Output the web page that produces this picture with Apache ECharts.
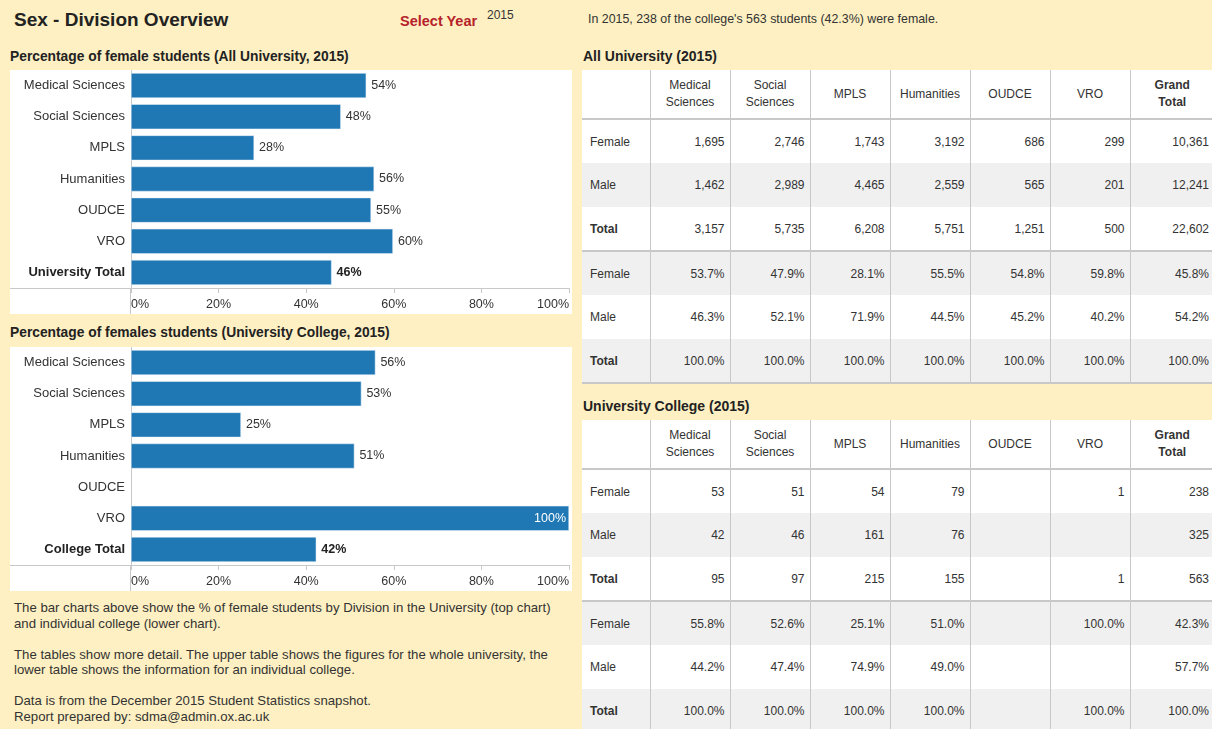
<!DOCTYPE html>
<html>
<head>
<meta charset="utf-8">
<script src="https://cdn.jsdelivr.net/npm/echarts@6/dist/echarts.min.js"></script>
<style>
  html, body { margin: 0; padding: 0; }
  body { width: 1212px; height: 729px; background: #fef0c2; position: relative; overflow: hidden;
         font-family: Arial, 'Liberation Sans', sans-serif; color: #333; }
  .abs { position: absolute; white-space: nowrap; }
  .chart { position: absolute; background: #fff; }
  table { position: absolute; border-collapse: collapse; table-layout: fixed; background: #fff; font-size: 12px; color: #333; }
  td { border-left: 1px solid #c8c8c8; padding: 0 5px; text-align: right; height: 44px; box-sizing: border-box; }
  td:first-child { border-left: none; text-align: left; padding-left: 8px; }
  tr.head td { height: 49px; text-align: center; line-height: 17px; border-bottom: 2px solid #c8c8c8; padding: 0 2px; }
  tr.gray td { background: #f0f0f0; }
  tr.sep td { border-bottom: 2px solid #c8c8c8; }
  .b { font-weight: bold; }
</style>
</head>
<body>
<div class="abs b" style="left:14px;top:9px;font-size:19px;color:#222;">Sex - Division Overview</div>
<div class="abs b" style="left:400px;top:13px;font-size:14.5px;color:#b5222a;">Select Year</div>
<div class="abs" style="left:487px;top:8px;font-size:12px;">2015</div>
<div class="abs" style="left:588px;top:12px;font-size:12.4px;" id="summary"></div>

<div class="abs b" style="left:10px;top:49px;font-size:13.8px;color:#222;">Percentage of female students (All University, 2015)</div>
<div class="chart" id="chartUni" style="left:10px;top:70px;width:562px;height:244px;"></div>
<div class="abs b" style="left:10px;top:325px;font-size:13.8px;color:#222;">Percentage of females students (University College, 2015)</div>
<div class="chart" id="chartCol" style="left:10px;top:347px;width:562px;height:244px;"></div>

<div class="abs" style="left:14px;top:600px;font-size:13.2px;line-height:15.5px;">
The bar charts above show the % of female students by Division in the University (top chart)<br>
and individual college (lower chart).<br><br>
The tables show more detail. The upper table shows the figures for the whole university, the<br>
lower table shows the information for an individual college.<br><br>
Data is from the December 2015 Student Statistics snapshot.<br>
Report prepared by: sdma@admin.ox.ac.uk
</div>

<div class="abs b" style="left:583px;top:48px;font-size:14px;color:#222;">All University (2015)</div>
<table id="tblUni" style="left:582px;top:70px;width:632px;"></table>
<div class="abs b" style="left:583px;top:398px;font-size:14px;color:#222;">University College (2015)</div>
<table id="tblCol" style="left:582px;top:420px;width:632px;"></table>

<script>
// categories
var divisions = ['Medical Sciences', 'Social Sciences', 'MPLS', 'Humanities', 'OUDCE', 'VRO'];
var headers = ['Medical<br>Sciences', 'Social<br>Sciences', 'MPLS', 'Humanities', 'OUDCE', 'VRO', '<b>Grand<br>Total</b>'];
var uniTotalLabel = 'University Total';
var colTotalLabel = 'College Total';

// All University counts (last value = grand total)
var uniFemale = [1695, 2746, 1743, 3192, 686, 299, 10361];
var uniMale = [1462, 2989, 4465, 2559, 565, 201, 12241];
var uniTotal = [3157, 5735, 6208, 5751, 1251, 500, 22602];
var uniFemalePct = [53.7, 47.9, 28.1, 55.5, 54.8, 59.8, 45.8];
var uniMalePct = [46.3, 52.1, 71.9, 44.5, 45.2, 40.2, 54.2];
var uniTotalPct = [100, 100, 100, 100, 100, 100, 100];

// University College counts
var colFemale = [53, 51, 54, 79, null, 1, 238];
var colMale = [42, 46, 161, 76, null, null, 325];
var colTotal = [95, 97, 215, 155, null, 1, 563];
var colFemalePct = [55.8, 52.6, 25.1, 51.0, null, 100, 42.3];
var colMalePct = [44.2, 47.4, 74.9, 49.0, null, null, 57.7];
var colTotalPct = [100, 100, 100, 100, null, 100, 100];

// x axis ticks
var pctMin = 0, pctMax = 100, pctStep = 20;

document.getElementById('summary').textContent =
  "In 2015, 238 of the college's 563 students (42.3%) were female.";

function fmtNum(v) { return v == null ? '' : v.toLocaleString('en-US'); }
function fmtPct(v) { return v == null ? '' : v.toFixed(1) + '%'; }

function buildTable(id, rows) {
  var html = '<colgroup><col style="width:68px">';
  for (var i = 0; i < 6; i++) html += '<col style="width:80px">';
  html += '<col style="width:84px"></colgroup>';
  html += '<tr class="head"><td></td>';
  headers.forEach(function (h) { html += '<td>' + h + '</td>'; });
  html += '</tr>';
  rows.forEach(function (r) {
    html += '<tr class="' + r.cls + '"><td' + (r.bold ? ' class="b"' : '') + '>' + r.name + '</td>';
    r.vals.forEach(function (v) { html += '<td>' + r.fmt(v) + '</td>'; });
    html += '</tr>';
  });
  document.getElementById(id).innerHTML = html;
}

buildTable('tblUni', [
  { name: 'Female', vals: uniFemale, fmt: fmtNum, cls: '' },
  { name: 'Male', vals: uniMale, fmt: fmtNum, cls: 'gray' },
  { name: 'Total', vals: uniTotal, fmt: fmtNum, cls: 'sep', bold: true },
  { name: 'Female', vals: uniFemalePct, fmt: fmtPct, cls: 'gray' },
  { name: 'Male', vals: uniMalePct, fmt: fmtPct, cls: '' },
  { name: 'Total', vals: uniTotalPct, fmt: fmtPct, cls: 'gray sep', bold: true }
]);
buildTable('tblCol', [
  { name: 'Female', vals: colFemale, fmt: fmtNum, cls: '' },
  { name: 'Male', vals: colMale, fmt: fmtNum, cls: 'gray' },
  { name: 'Total', vals: colTotal, fmt: fmtNum, cls: 'sep', bold: true },
  { name: 'Female', vals: colFemalePct, fmt: fmtPct, cls: 'gray' },
  { name: 'Male', vals: colMalePct, fmt: fmtPct, cls: '' },
  { name: 'Total', vals: colTotalPct, fmt: fmtPct, cls: 'gray sep', bold: true }
]);

function barChart(el, totalLabel, pcts) {
  var cats = divisions.concat([totalLabel]);
  var data = pcts.map(function (v, i) {
    var item = { value: v };
    if (i === pcts.length - 1) item.label = { fontWeight: 'bold', color: '#222' };
    if (v === 100) item.label = { position: 'insideRight', color: '#fff', distance: 3 };
    return item;
  });
  var chart = echarts.init(document.getElementById(el));
  chart.setOption({
    animation: false,
    textStyle: { fontFamily: 'Arial, Liberation Sans, sans-serif' },
    grid: { left: 121, right: 0, top: 0, height: 218 },
    xAxis: {
      type: 'value', min: pctMin, max: pctMax, interval: pctStep,
      axisLine: { show: true, lineStyle: { color: '#c8c8c8' } },
      axisTick: { show: true, length: 5, lineStyle: { color: '#c8c8c8' } },
      splitLine: { show: false },
      axisLabel: { formatter: '{value}%', color: '#333', fontSize: 12.5, margin: 10,
                   alignMinLabel: 'left', alignMaxLabel: 'right' }
    },
    yAxis: {
      type: 'category', inverse: true, data: cats,
      axisLine: { show: true, lineStyle: { color: '#c8c8c8' } },
      axisTick: { show: false },
      axisLabel: {
        color: '#333', fontSize: 13, margin: 6,
        formatter: function (v) { return v === totalLabel ? '{b|' + v + '}' : v; },
        rich: { b: { fontWeight: 'bold', fontSize: 13, color: '#222' } }
      }
    },
    graphic: [
      { type: 'line', shape: { x1: 0, y1: 218.5, x2: 121, y2: 218.5 }, style: { stroke: '#c8c8c8', lineWidth: 1 } },
      { type: 'line', shape: { x1: 120.5, y1: 218, x2: 120.5, y2: 244 }, style: { stroke: '#c8c8c8', lineWidth: 1 } }
    ],
    series: [{
      type: 'bar', data: data, barCategoryGap: '20%',
      itemStyle: { color: '#1f77b4', borderColor: '#e8f0f8', borderWidth: 0.5 },
      label: {
        show: true, position: 'right', distance: 5, color: '#333', fontSize: 12.5,
        formatter: function (p) { return Math.round(p.value) + '%'; }
      }
    }]
  });
}

barChart('chartUni', uniTotalLabel, uniFemalePct);
barChart('chartCol', colTotalLabel, colFemalePct);
</script>
</body>
</html>
